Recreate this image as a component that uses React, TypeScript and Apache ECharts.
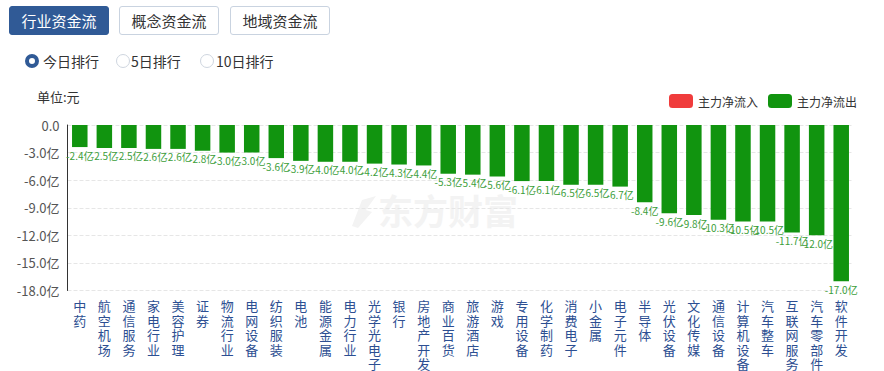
import React, { useEffect, useRef } from "react";
import * as echarts from "echarts";

const categories = [
  "中药", "航空机场", "通信服务", "家电行业", "美容护理", "证券", "物流行业", "电网设备",
  "纺织服装", "电池", "能源金属", "电力行业", "光学光电子", "银行", "房地产开发", "商业百货",
  "旅游酒店", "游戏", "专用设备", "化学制药", "消费电子", "小金属", "电子元件", "半导体",
  "光伏设备", "文化传媒", "通信设备", "计算机设备", "汽车整车", "互联网服务", "汽车零部件", "软件开发",
];
const outflowValues = [
  -2.4, -2.5, -2.5, -2.6, -2.6, -2.8, -3.0, -3.0, -3.6, -3.9, -4.0, -4.0, -4.2, -4.3, -4.4, -5.3,
  -5.4, -5.6, -6.1, -6.1, -6.5, -6.5, -6.7, -8.4, -9.6, -9.8, -10.3, -10.5, -10.5, -11.7, -12.0, -17.0,
];
const inflowValues: (number | null)[] = categories.map(() => null);
const legendNames = ["主力净流入", "主力净流出"];
const tabLabels = ["行业资金流", "概念资金流", "地域资金流"];
const rankLabels = ["今日排行", "5日排行", "10日排行"];

const FONT = '"Microsoft YaHei", "Noto Sans CJK SC", "Noto Sans", sans-serif';
const BLUE = "#305a96";
const GREEN = "#11940f";
const RED = "#f03c3c";

export default function App() {
  const ref = useRef<HTMLDivElement>(null);
  useEffect(() => {
    if (!ref.current) return;
    const chart = echarts.init(ref.current, null, { renderer: "svg" });
    chart.setOption({
      animation: false,
      textStyle: { fontFamily: FONT },
      grid: { left: 67.5, right: 30.5, top: 125, bottom: 79, containLabel: false },
      legend: {
        right: 22,
        top: 89,
        itemWidth: 24,
        itemHeight: 14,
        itemGap: 10,
        icon: "roundRect",
        textStyle: { color: "#333", fontSize: 12, fontFamily: FONT },
        data: legendNames,
      },
      graphic: [
        {
          type: "text",
          left: 37,
          top: 90,
          style: { text: "单位:元", fill: "#333", fontSize: 13, fontFamily: FONT },
        },
        {
          type: "text",
          left: 378,
          top: 192,
          silent: true,
          style: { text: "东方财富", fill: "#f3f3f3", fontSize: 35, fontWeight: "bold", fontFamily: FONT },
          z: -1,
        },
        {
          type: "polygon",
          silent: true,
          z: -1,
          shape: { points: [[352, 226], [362, 200], [376, 196], [366, 210], [372, 212], [358, 228]] },
          style: { fill: "#f3f3f3" },
        },
      ],
      xAxis: {
        type: "category",
        data: categories,
        position: "bottom",
        axisLine: { show: false, onZero: false },
        axisTick: { show: false },
        axisLabel: {
          interval: 0,
          color: "#2d4f92",
          fontSize: 13,
          lineHeight: 14.5,
          margin: 8,
          verticalAlign: "top",
          fontFamily: FONT,
          formatter: (v: string) => v.split("").join("\n"),
        },
      },
      yAxis: {
        type: "value",
        min: -18,
        max: 0,
        interval: 3,
        axisLine: { show: true, lineStyle: { color: "#333" } },
        axisTick: { show: false },
        splitLine: { show: true, lineStyle: { color: "#e6e6e6", type: "dashed" } },
        axisLabel: {
          color: "#555",
          fontSize: 13,
          margin: 8,
          fontFamily: FONT,
          formatter: (v: number) => (v === 0 ? "0.0" : v.toFixed(1) + "亿"),
        },
      },
      series: [
        {
          name: legendNames[0],
          type: "bar",
          stack: "flow",
          data: inflowValues,
          itemStyle: { color: RED },
          barWidth: 15.5,
        },
        {
          name: legendNames[1],
          type: "bar",
          stack: "flow",
          data: outflowValues,
          itemStyle: { color: GREEN },
          barWidth: 15.5,
          label: {
            show: true,
            position: "bottom",
            distance: 3,
            color: "#3c9e3a",
            fontSize: 10,
            fontFamily: FONT,
            formatter: (p: any) => Number(p.value).toFixed(1) + "亿",
          },
        },
      ],
    });
    return () => chart.dispose();
  }, []);

  const tabStyle = (active: boolean, left: number): React.CSSProperties => ({
    position: "absolute",
    left,
    top: 6,
    width: 100,
    height: 29,
    boxSizing: "border-box",
    borderRadius: 3,
    border: active ? `1px solid ${BLUE}` : "1px solid #c9d3e0",
    background: active ? BLUE : "#fff",
    color: active ? "#fff" : "#333",
    fontSize: 15,
    lineHeight: "27px",
    textAlign: "center",
    fontFamily: FONT,
  });

  const radioPos = [
    { cx: 32, tx: 43 },
    { cx: 123, tx: 131 },
    { cx: 207, tx: 216 },
  ];

  return (
    <div style={{ position: "fixed", left: 0, top: 0, width: 884, height: 371, background: "#fff", overflow: "hidden" }}>
      <div ref={ref} style={{ position: "absolute", left: 0, top: 0, width: 884, height: 371 }} />
      {tabLabels.map((t, i) => (
        <div key={t} style={tabStyle(i === 0, [9, 119, 230][i])}>{t}</div>
      ))}
      {rankLabels.map((t, i) => (
        <React.Fragment key={t}>
          <div
            style={{
              position: "absolute",
              left: radioPos[i].cx - 7,
              top: 54,
              width: 14,
              height: 14,
              boxSizing: "border-box",
              borderRadius: "50%",
              border: i === 0 ? `4px solid ${BLUE}` : "1px solid #cfd6df",
              background: "#fff",
            }}
          />
          <div
            style={{
              position: "absolute",
              left: radioPos[i].tx,
              top: 51,
              fontSize: 14,
              lineHeight: "20px",
              color: "#333",
              fontFamily: FONT,
            }}
          >
            {t}
          </div>
        </React.Fragment>
      ))}
    </div>
  );
}
